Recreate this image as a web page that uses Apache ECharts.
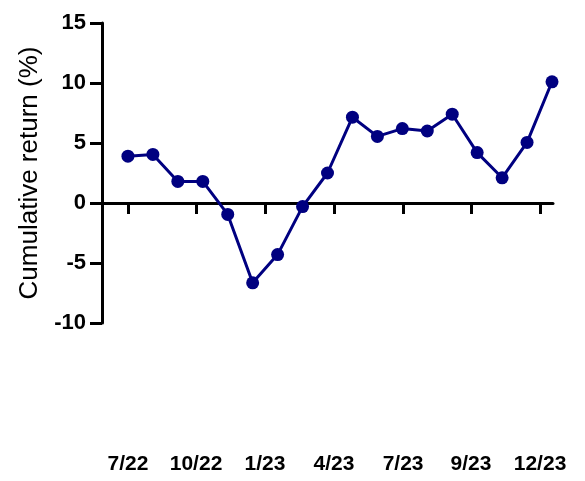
<!DOCTYPE html>
<html>
<head>
<meta charset="utf-8">
<script src="https://cdn.jsdelivr.net/npm/echarts@6/dist/echarts.min.js"></script>
<style>
html,body{margin:0;padding:0;background:#fff;}
#chart{width:585px;height:481px;}
</style>
</head>
<body>
<div id="chart"></div>
<script>
// Monthly points, 7/22 .. 12/23 (index 0..17)
const months = ['7/22','8/22','9/22','10/22','11/22','12/22','1/23','2/23','3/23','4/23','5/23','6/23','7/23','8/23','9/23','10/23','11/23','12/23'];
const cumulativeReturn = [3.9, 4.05, 1.8, 1.8, -0.95, -6.65, -4.3, -0.3, 2.5, 7.15, 5.55, 6.2, 6.0, 7.4, 4.2, 2.1, 5.05, 10.1];
// x tick positions (in month-index units) and their labels
const tickPositions = [0, 2.73, 5.49, 8.26, 11.03, 13.75, 16.52];
const tickLabels = ['7/22', '10/22', '1/23', '4/23', '7/23', '9/23', '12/23'];
const yTicks = [-10, -5, 0, 5, 10, 15];

const seriesData = cumulativeReturn.map((v, i) => [i, v]);
const chart = echarts.init(document.getElementById('chart'));
const axisCol = '#000';
chart.setOption({
  animation: false,
  backgroundColor: '#fff',
  grid: { left: 102, right: 32, top: 23, bottom: 158, containLabel: false, outerBoundsMode: 'none' },
  xAxis: {
    type: 'value',
    min: -1.04,
    max: 17.04,
    splitLine: { show: false },
    axisLine: { show: true, onZero: true, lineStyle: { color: axisCol, width: 3 } },
    axisTick: { show: true, length: 11, customValues: tickPositions, lineStyle: { color: axisCol, width: 3 } },
    axisLabel: {
      show: true,
      customValues: tickPositions,
      margin: 131,
      fontFamily: 'Liberation Sans, Arial, sans-serif',
      fontWeight: 'bold',
      fontSize: 21,
      color: '#000',
      formatter: function (val) {
        let best = 0, bd = Infinity;
        tickPositions.forEach((p, k) => { const d = Math.abs(p - val); if (d < bd) { bd = d; best = k; } });
        return tickLabels[best];
      }
    }
  },
  yAxis: {
    type: 'value',
    min: yTicks[0],
    max: yTicks[yTicks.length - 1],
    interval: 5,
    name: 'Cumulative return (%)',
    nameLocation: 'middle',
    nameGap: 52,
    nameTextStyle: { fontFamily: 'Liberation Sans, Arial, sans-serif', fontSize: 26, color: '#000' },
    splitLine: { show: false },
    axisLine: { show: true, onZero: false, lineStyle: { color: axisCol, width: 3 } },
    axisTick: { show: true, length: 12, lineStyle: { color: axisCol, width: 3 } },
    axisLabel: {
      margin: 16,
      fontFamily: 'Liberation Sans, Arial, sans-serif',
      fontWeight: 'bold',
      fontSize: 22,
      color: '#000'
    }
  },
  series: [{
    type: 'line',
    data: seriesData,
    symbol: 'circle',
    symbolSize: 13,
    showAllSymbol: true,
    lineStyle: { color: '#000080', width: 3 },
    itemStyle: { color: '#000080' }
  }]
});
</script>
</body>
</html>
